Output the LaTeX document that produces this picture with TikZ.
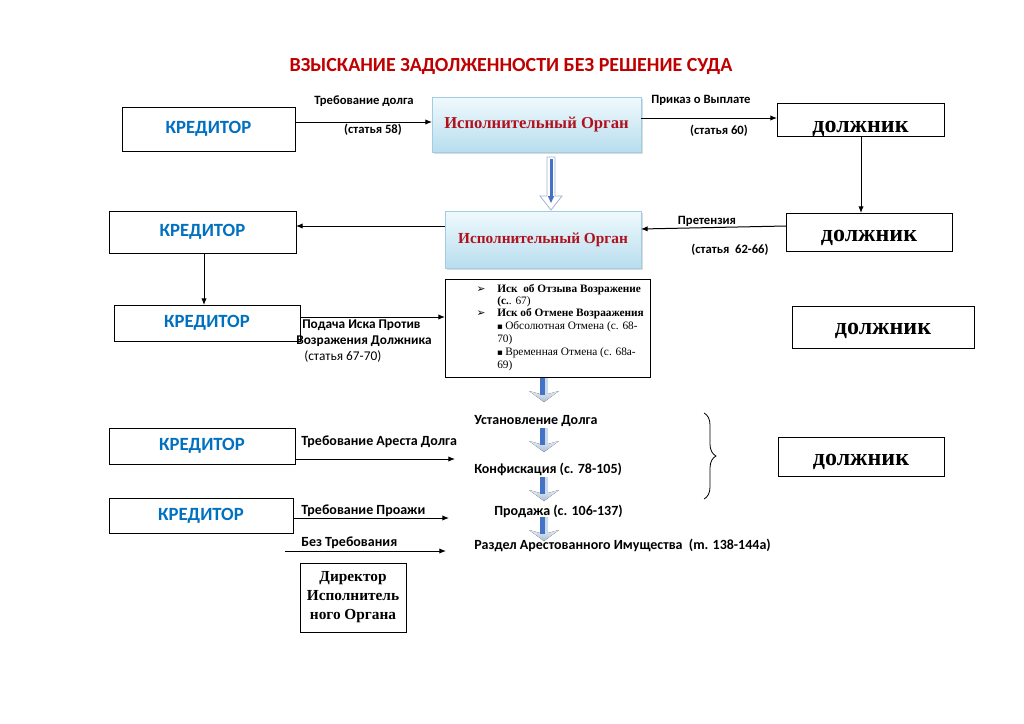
\documentclass[tikz,border=0pt]{standalone}
\usepackage{fontspec}
\setmainfont{Liberation Serif}
\newfontfamily\calfont{Carlito}
\newfontfamily\symfont{DejaVu Sans}
\usetikzlibrary{arrows.meta,shadows,decorations.pathreplacing,calc}

\definecolor{kblue}{RGB}{0,112,192}
\definecolor{tred}{RGB}{192,0,0}
\definecolor{ored}{RGB}{175,18,30}
\definecolor{iotop}{RGB}{240,249,253}
\definecolor{iobot}{RGB}{184,222,238}
\definecolor{ioedge}{RGB}{160,205,225}
\definecolor{abdark}{RGB}{68,114,196}
\definecolor{ablight}{RGB}{205,218,236}
\definecolor{abhead1}{RGB}{228,235,244}
\definecolor{abhead2}{RGB}{170,188,214}
\definecolor{abedge}{RGB}{160,180,212}

% box from corners: name, x1,y1,x2,y2, style, text
\newcommand\rbox[7]{\node[#6, minimum width={(#4-#2)*0.75pt}, minimum height={(#5-#3)*0.75pt}] (#1) at ({(#2+#4)/2},{(#3+#5)/2}) {#7};}
% chevron block arrow: x centre, y top
\newcommand\chev[2]{%
  \fill[top color=abhead1,bottom color=abhead2] (#1-15,#2+13) -- (#1,#2+24) -- (#1+15,#2+13) -- (#1+4,#2+16) -- (#1-4,#2+16) -- cycle;
  \fill[abdark] (#1-4,#2) rectangle (#1+1,#2+17);
  \fill[ablight] (#1+1,#2) rectangle (#1+4,#2+17);
}

\begin{document}
\begin{tikzpicture}[x=0.75pt,y=-0.75pt,
  wbox/.style={draw=black, line width=0.75pt, fill=white, inner sep=0pt, outer sep=0pt},
  kred/.style={wbox, font=\calfont\bfseries\fontsize{14}{16}\selectfont, text=kblue},
  dolz/.style={wbox, font=\bfseries\fontsize{18}{20}\selectfont, text depth=0pt, text height=#1},
  organ/.style={draw=ioedge, line width=0.6pt, top color=iotop, bottom color=iobot, inner sep=0pt, outer sep=0pt, font=\bfseries\fontsize{12.5}{15}\selectfont, text=ored, drop shadow={shadow xshift=1.5pt, shadow yshift=-1.5pt, fill=black!40, opacity=0.35}},
  lbl/.style={font=\calfont\bfseries\fontsize{9.5}{11}\selectfont, inner sep=0pt},
  lbl2/.style={font=\calfont\bfseries\fontsize{10}{12}\selectfont, inner sep=0pt, anchor=west},
  stage/.style={font=\calfont\bfseries\fontsize{10.5}{12}\selectfont, inner sep=0pt, anchor=west},
  litem/.style={font=\fontsize{8.5}{10}\selectfont, inner sep=0pt, anchor=west},
  lsym/.style={font=\symfont\fontsize{8}{9}\selectfont, inner sep=0pt},
  arr/.style={-{Latex[length=5pt,width=4pt]}, line width=0.75pt},
]
\useasboundingbox (0,0) rectangle (1024,724);
\fill[white] (0,0) rectangle (1024,724);

% title
\node[font=\calfont\bfseries\fontsize{15}{18}\selectfont, text=tred, inner sep=0pt] (title) at (511,66) {ВЗЫСКАНИЕ ЗАДОЛЖЕННОСТИ БЕЗ РЕШЕНИЕ СУДА};

% row 1
\rbox{k1}{122}{107}{295}{151}{kred}{КРЕДИТОР}
\rbox{io1}{432}{97}{641}{152}{organ}{Исполнительный Орган}
\rbox{d1}{777}{103}{944}{136}{dolz=20pt}{должник}

% row 2
\rbox{k2}{109}{211}{296}{253}{kred}{КРЕДИТОР}
\rbox{io2}{445}{211}{641}{268}{organ, font=\bfseries\fontsize{11.5}{14}\selectfont}{Исполнительный Орган}
\rbox{d2}{786}{213}{952}{251}{dolz=14pt}{должник}

% row 3
\rbox{k3}{114}{305}{300}{341}{kred}{КРЕДИТОР}
\rbox{lb}{445}{279}{650}{377}{wbox}{}
\rbox{d3}{792}{306}{974}{348}{dolz=11pt}{должник}

% row 4/5
\rbox{k4}{109}{428}{295}{464}{kred}{КРЕДИТОР}
\rbox{k5}{109}{498}{293}{533}{kred}{КРЕДИТОР}
\rbox{d4}{778}{437}{944}{476}{dolz=13pt}{должник}
\rbox{dir}{300}{563}{406}{632}{wbox, font=\bfseries\fontsize{11.5}{14.2}\selectfont, align=center}{Директор\\Исполнитель\\ного Органа}

% helper coordinates
\coordinate (ya) at (0,122);
\coordinate (yb) at (0,118);
\coordinate (xc) at (861,0);
\coordinate (yd1) at (0,226);
\coordinate (yd2) at (0,229);
\coordinate (ye) at (0,226);
\coordinate (xf) at (204,0);
\coordinate (yg) at (0,317);
\coordinate (c1) at (455,459);
\coordinate (c2) at (449,518);
\coordinate (c3) at (285,551);
\coordinate (c4) at (446,551);

% connectors
\draw[arr] (k1.east |- ya) -- (io1.west |- ya);
\draw[arr] (io1.east |- yb) -- (d1.west |- yb);
\draw[arr] (d1.south -| xc) -- (d2.north -| xc);
\draw[arr] (d2.west |- yd1) -- (io2.east |- yd2);
\draw[arr] (io2.west |- ye) -- (k2.east |- ye);
\draw[arr] (k2.south -| xf) -- (k3.north -| xf);
\draw[arr] (k3.east |- yg) -- (lb.west |- yg);
\draw[arr] (k4.east |- c1) -- (c1);
\draw[arr] (k5.east |- c2) -- (c2);
\draw[arr] (c3) -- (c4);

% labels
\node[lbl] (t1) at (364,101) {Требование долга};
\node[lbl] (t2) at (373,130) {(статья 58)};
\node[lbl] (t3) at (701,100) {Приказ о Выплате};
\node[lbl] (t4) at (719,131) {(статья 60)};
\node[lbl] (t5) at (707,221) {Претензия};
\node[lbl] (t6) at (730,250) {(статья\ \ 62-66)};
\node[lbl2] (t7) at (302,325) {Подача Иска Против};
\node[lbl2] (t8) at (296,341) {Возражения Должника};
\node[lbl2, font=\calfont\fontsize{10}{12}\selectfont] (t9) at (304,357) {(статья 67-70)};
\node[stage] (t10) at (301,442) {Требование Ареста Долга};
\node[stage] (t11) at (301,511) {Требование Проажи};
\node[stage] (t12) at (301,543) {Без Требования};

% list box content
\node[lsym] (s1) at (481,290) {➢};
\node[litem, font=\bfseries\fontsize{8.5}{10}\selectfont] (l1) at (497,290) {Иск\ \ об Отзыва Возражение};
\node[litem] (l2) at (497,302) {\textbf{(с.}. 67)};
\node[lsym] (s2) at (481,314) {➢};
\node[litem, font=\bfseries\fontsize{8.5}{10}\selectfont] (l3) at (497,314) {Иск об Отмене Возраажения};
\node[lsym, font=\symfont\fontsize{6.5}{8}\selectfont] (s3) at (500,327) {▪};
\node[litem] (l4) at (505,327) {Обсолютная Отмена (с. 68-};
\node[litem] (l5) at (497,340) {70)};
\node[lsym, font=\symfont\fontsize{6.5}{8}\selectfont] (s4) at (500,353) {▪};
\node[litem] (l6) at (505,353) {Временная Отмена (с. 68а-};
\node[litem] (l7) at (497,366) {69)};

% stages
\node[stage] (st1) at (474,421) {Установление Долга};
\node[stage] (st2) at (474,469) {Конфискация (с. 78-105)};
\node[stage] (st3) at (494,511) {Продажа (с. 106-137)};
\node[stage] (st4) at (474,545) {Раздел Арестованного Имущества\ \ (m. 138-144a)};

% block arrows
\draw[abedge, fill=white, line width=0.6pt] (547,157) -- (555,157) -- (555,196) -- (562,196) -- (551,210) -- (540,196) -- (547,196) -- cycle;
\fill[abdark] (549.5,159) rectangle (552.5,197);
\fill[abdark] (547.8,196) -- (554.2,196) -- (551,203) -- cycle;

\chev{544}{378}
\chev{544}{428}
\chev{544}{477}
\chev{544}{517}

% brace
\draw[line width=0.6pt, decorate, decoration={brace, amplitude=9pt}] (704,413) -- (704,499);

\end{tikzpicture}
\end{document}
